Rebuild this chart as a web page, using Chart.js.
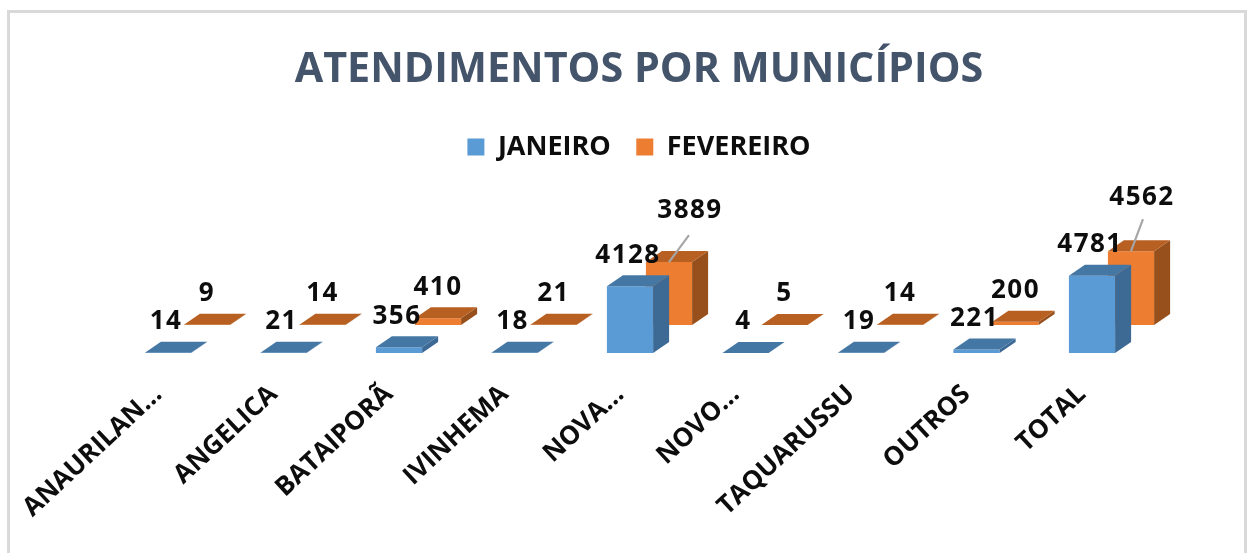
<!DOCTYPE html>
<html><head><meta charset="utf-8">
<style>
html,body{margin:0;padding:0;background:#fff;width:1250px;height:553px;overflow:hidden}
#frame{position:absolute;left:7px;top:10px;width:1240px;height:560px;border:3px solid #d9d9d9;box-sizing:border-box}
#wrap{position:absolute;left:0;top:0;width:1250px;height:553px}
canvas{filter:blur(0.45px)}
</style>
<script src="https://cdn.jsdelivr.net/npm/chart.js@4"></script>
</head><body>
<div id="frame"></div>
<div id="wrap"><canvas id="c" width="1250" height="553"></canvas></div>
<script>
const categories = ['ANAURILAN...','ANGELICA','BATAIPORÃ','IVINHEMA','NOVA...','NOVO...','TAQUARUSSU','OUTROS','TOTAL'];
const janeiro = [14,21,356,18,4128,4,19,221,4781];
const fevereiro = [9,14,410,21,3889,5,14,200,4562];

const FONT = '"Open Sans", sans-serif';
const faces = [
  {dx:10, dy:0,   top:'#4577A5', side:'#3C6A94'},
  {dx:49, dy:-28, top:'#B85F22', side:'#97501C'}
];
const depth = {x:16, y:11};
const labelGap = 31;
const labelNudge = [{x:-2,y:0},{x:0,y:0}];
const leaders = {4:{x:21,y:-20,tx:20,ty:-27}, 8:{x:11,y:-23,tx:12,ty:-32}};

const bars3d = {
  id:'bars3d',
  beforeDatasetDraw(chart,args){
    const f = faces[args.index], ctx = chart.ctx;
    ctx.save(); ctx.translate(f.dx,f.dy);
  },
  afterDatasetDraw(chart,args){
    const f = faces[args.index], ctx = chart.ctx;
    args.meta.data.forEach(b=>{
      const p = b.getProps(['x','y','base','width'],true);
      const l=p.x-p.width/2, r=p.x+p.width/2;
      ctx.fillStyle=f.side; ctx.beginPath();
      ctx.moveTo(r,p.base); ctx.lineTo(r+depth.x,p.base-depth.y); ctx.lineTo(r+depth.x,p.y-depth.y); ctx.lineTo(r,p.y); ctx.closePath(); ctx.fill();
      ctx.fillStyle=f.top; ctx.beginPath();
      ctx.moveTo(l,p.y); ctx.lineTo(l+depth.x,p.y-depth.y); ctx.lineTo(r+depth.x,p.y-depth.y); ctx.lineTo(r,p.y); ctx.closePath(); ctx.fill();
    });
    ctx.restore();
  },
  afterDatasetsDraw(chart){
    const ctx = chart.ctx;
    [1,0].forEach(i=>{
      const f = faces[i], n = labelNudge[i];
      chart.getDatasetMeta(i).data.forEach((b,k)=>{
        const x0=b.x+f.dx, y0=b.y+f.dy;
        let lx=x0+n.x, ly=y0-labelGap;
        const lead = i===1 ? leaders[k] : null;
        if(lead){
          lx+=lead.x; ly+=lead.y;
          ctx.strokeStyle='#A6A6A6'; ctx.lineWidth=2.2;
          ctx.beginPath(); ctx.moveTo(x0,y0); ctx.lineTo(x0+lead.tx,y0+lead.ty); ctx.stroke();
        }
        ctx.save();
        ctx.fillStyle='#0d0d0d'; ctx.font='bold 26px '+FONT;
        ctx.letterSpacing='1.5px';
        ctx.textAlign='center'; ctx.textBaseline='middle';
        ctx.fillText(String(chart.data.datasets[i].data[k]),lx,ly);
        ctx.restore();
      });
    });
  }
};

new Chart(document.getElementById('c'),{
  type:'bar',
  data:{labels:categories,datasets:[
    {label:'JANEIRO',data:janeiro,backgroundColor:'#5B9BD5',clip:false},
    {label:'FEVEREIRO',data:fevereiro,backgroundColor:'#ED7D31',clip:false}
  ]},
  plugins:[bars3d],
  options:{
    responsive:false,animation:false,
    layout:{padding:{left:100.25,right:72.25,top:45,bottom:0}},
    datasets:{bar:{grouped:false,barPercentage:0.4,categoryPercentage:1}},
    plugins:{
      title:{display:true,text:'ATENDIMENTOS POR MUNICÍPIOS',color:'#44546A',font:{family:FONT,size:41.3,weight:'bold'},padding:{top:0,bottom:13.5}},
      legend:{display:true,position:'top',labels:{boxWidth:17,boxHeight:17,color:'#0d0d0d',font:{family:FONT,size:27,weight:'bold'},padding:25.5}},
      tooltip:{enabled:false}
    },
    scales:{
      x:{grid:{display:false},border:{display:false},
         ticks:{autoSkip:false,minRotation:43,maxRotation:43,padding:18,color:'#0d0d0d',font:{family:FONT,size:26,weight:'bold'}},
         afterFit(s){s.height=200;}},
      y:{position:'right',min:0,max:11278,grid:{display:false},border:{display:false},ticks:{display:false},
         afterFit(s){s.width=38;}}
    }
  }
});
</script>
</body></html>
